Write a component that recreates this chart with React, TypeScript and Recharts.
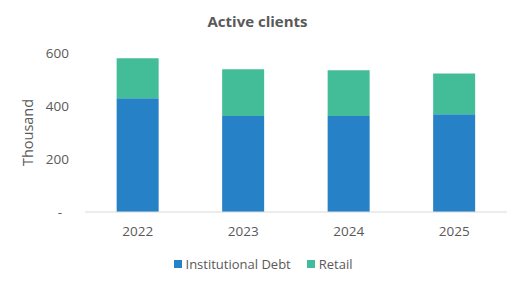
import { BarChart, Bar, XAxis, YAxis } from 'recharts';

const years = ['2022', '2023', '2024', '2025'];
const institutionalDebt = [429, 362, 362, 369];
const retail = [151, 177, 173, 154];
const yTicks = [0, 200, 400, 600];

const data = years.map((year, i) => ({
  year,
  institutional: institutionalDebt[i],
  retail: retail[i],
}));

const FONT = '"Open Sans", sans-serif';
const TEXT = '#595959';
const BLUE = '#2681c7';
const GREEN = '#43bd97';

export default function App() {
  return (
    <div style={{ position: 'absolute', left: 0, top: 0, width: 526, height: 287, background: '#fff', fontFamily: FONT }}>
      <div
        style={{
          position: 'absolute',
          left: 0,
          top: 11,
          width: 515,
          textAlign: 'center',
          fontSize: 15,
          fontWeight: 700,
          color: TEXT,
          lineHeight: '20px',
        }}
      >
        Active clients
      </div>
      <BarChart
        width={526}
        height={287}
        data={data}
        margin={{ top: 53, right: 19, left: 0, bottom: 45 }}
        barCategoryGap="30%"
      >
        <XAxis
          dataKey="year"
          height={30}
          tickLine={false}
          axisLine={{ stroke: '#d9d9d9' }}
          tick={{ fontSize: 13.5, fill: TEXT, fontFamily: FONT }}
          tickMargin={8}
        />
        <YAxis
          width={85}
          domain={[0, 600]}
          ticks={yTicks}
          axisLine={false}
          tickLine={false}
          tickSize={0}
          tickMargin={16}
          tick={{ fontSize: 13.5, fill: TEXT, fontFamily: FONT }}
          tickFormatter={(v) => (v === 0 ? '-\u00A0\u00A0' : String(v))}
          label={{
            value: 'Thousand',
            angle: -90,
            position: 'insideLeft',
            offset: 28,
            style: { textAnchor: 'middle', fontSize: 14.5, fill: TEXT, fontFamily: FONT },
          }}
        />
        <Bar dataKey="institutional" stackId="a" fill={BLUE} isAnimationActive={false} />
        <Bar dataKey="retail" stackId="a" fill={GREEN} isAnimationActive={false} />
      </BarChart>
      <div
        style={{
          position: 'absolute',
          left: 0,
          top: 255,
          width: 526,
          display: 'flex',
          justifyContent: 'center',
          alignItems: 'center',
          gap: 16,
          fontSize: 13,
          color: TEXT,
          lineHeight: '18px',
        }}
      >
        <div style={{ display: 'flex', alignItems: 'center', gap: 4 }}>
          <div style={{ width: 8, height: 8, background: BLUE }} />
          <span>Institutional Debt</span>
        </div>
        <div style={{ display: 'flex', alignItems: 'center', gap: 4 }}>
          <div style={{ width: 8, height: 8, background: GREEN }} />
          <span>Retail</span>
        </div>
      </div>
    </div>
  );
}
